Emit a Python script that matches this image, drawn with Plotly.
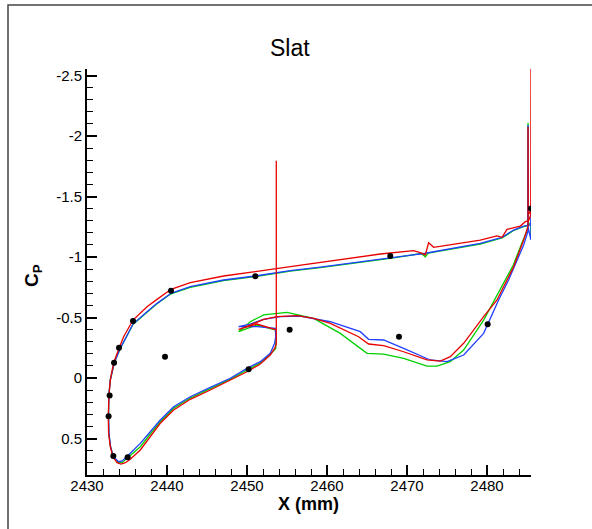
import plotly.graph_objects as go

# ---------------- data ----------------
exp_x = [2432.70, 2432.83, 2433.38, 2434.0, 2435.75, 2440.5, 2451.04, 2467.91, 2485.5,
         2433.29, 2435.08, 2439.75, 2450.2, 2455.33, 2469.0, 2480.08]
exp_cp = [0.317, 0.145, -0.126, -0.250, -0.471, -0.722, -0.840, -1.008, -1.402,
          0.645, 0.655, -0.176, -0.072, -0.399, -0.341, -0.444]

red_x = [2485.5, 2485.5, 2485.47, 2485.2, 2484.79, 2484.16, 2483.33, 2482.5, 2481.88, 2481.25,
         2479.16, 2476.25, 2473.33, 2472.7, 2472.29, 2471.66, 2470.83, 2466.66, 2462.91, 2459.16,
         2455.41, 2451.04, 2447.08, 2442.91, 2440.5, 2438.75, 2437.5, 2435.75, 2434.58, 2434.08,
         2433.33, 2432.91, 2432.75, 2432.66, 2432.7, 2432.91, 2433.25, 2433.75, 2434.25, 2434.79,
         2435.41, 2436.66, 2437.91, 2439.16, 2440.83, 2442.91, 2445.41, 2447.91, 2450.0, 2451.66,
         2452.91, 2453.45, 2453.66, 2453.66, 2453.66, 2451.25, 2448.95, 2450.41, 2452.08, 2453.75,
         2456.25, 2458.33, 2460.41, 2463.95, 2465.2, 2467.08, 2469.58, 2472.5, 2474.16, 2475.41,
         2477.08, 2479.58, 2481.25, 2482.5, 2483.33, 2484.58, 2485.13, 2485.13, 2485.15, 2485.5]
red_cp = [-1.347, -2.56, -1.347, -1.30, -1.292, -1.256, -1.245, -1.229, -1.163, -1.174,
          -1.140, -1.113, -1.080, -1.118, -1.017, -1.036, -1.052, -1.025, -0.988, -0.955,
          -0.920, -0.879, -0.843, -0.788, -0.733, -0.650, -0.589, -0.479, -0.341, -0.259,
          -0.126, 0.017, 0.146, 0.317, 0.457, 0.568, 0.650, 0.700, 0.711, 0.700,
          0.672, 0.595, 0.485, 0.374, 0.264, 0.176, 0.099, 0.017, -0.052, -0.116,
          -0.190, -0.245, -0.281, -1.796, -0.397, -0.446, -0.401, -0.438, -0.485, -0.507,
          -0.515, -0.493, -0.452, -0.341, -0.281, -0.267, -0.217, -0.149, -0.140, -0.176,
          -0.287, -0.507, -0.645, -0.810, -0.920, -1.140, -1.256, -2.074, -1.347, -1.388]

blue_x = [2485.5, 2485.5, 2485.46, 2485.2, 2484.58, 2483.33, 2481.88, 2479.16, 2475.0, 2472.29,
          2467.91, 2462.91, 2459.16, 2455.41, 2451.04, 2447.08, 2442.91, 2440.5, 2438.75, 2437.5,
          2435.75, 2434.16, 2433.41, 2432.91, 2432.72, 2432.7, 2432.75, 2432.95, 2433.29, 2433.95,
          2434.41, 2435.41, 2436.66, 2437.91, 2439.16, 2440.83, 2442.91, 2445.41, 2447.91, 2450.0,
          2451.66, 2452.91, 2453.45, 2453.6, 2453.54, 2451.25, 2448.95, 2450.41, 2452.08, 2454.16,
          2456.66, 2460.41, 2464.16, 2465.2, 2467.08, 2469.58, 2472.91, 2475.0, 2477.08, 2479.58,
          2481.45, 2482.7, 2483.54, 2484.58, 2485.1, 2485.13, 2485.15, 2485.5]
blue_cp = [-1.140, -1.388, -1.264, -1.264, -1.256, -1.223, -1.163, -1.113, -1.064, -1.031,
           -0.992, -0.946, -0.917, -0.887, -0.843, -0.810, -0.755, -0.700, -0.617, -0.548,
           -0.446, -0.245, -0.126, 0.017, 0.146, 0.317, 0.457, 0.568, 0.650, 0.692,
           0.686, 0.622, 0.540, 0.444, 0.347, 0.237, 0.155, 0.077, 0.002, -0.080,
           -0.135, -0.204, -0.287, -0.347, -0.411, -0.424, -0.424, -0.446, -0.485, -0.507,
           -0.512, -0.465, -0.383, -0.320, -0.314, -0.245, -0.149, -0.135, -0.190, -0.369,
           -0.645, -0.810, -0.934, -1.099, -1.207, -2.091, -1.240, -1.140]

green_x = [2485.5, 2485.47, 2485.2, 2484.58, 2483.33, 2481.88, 2479.16, 2475.0, 2472.66, 2472.29,
           2471.79, 2467.91, 2462.91, 2459.16, 2455.41, 2451.04, 2447.08, 2442.91, 2440.5, 2438.75,
           2437.5, 2435.75, 2434.16, 2433.41, 2432.91, 2432.72, 2432.69, 2432.72, 2432.94, 2433.29,
           2433.91, 2434.41, 2435.41, 2436.66, 2437.91, 2439.16, 2440.83, 2442.91, 2445.41, 2447.91,
           2450.0, 2451.66, 2452.91, 2453.45, 2453.6, 2453.6, 2453.54, 2451.25, 2448.95, 2450.41,
           2452.08, 2455.0, 2458.33, 2461.66, 2465.0, 2467.08, 2469.58, 2472.5, 2473.75, 2475.41,
           2477.08, 2479.58, 2482.29, 2483.29, 2484.41, 2485.1, 2485.13, 2485.15]
green_cp = [-1.157, -1.289, -1.260, -1.252, -1.219, -1.157, -1.107, -1.058, -1.033, -1.002,
            -1.029, -0.988, -0.942, -0.913, -0.883, -0.839, -0.806, -0.750, -0.696, -0.613,
            -0.544, -0.442, -0.244, -0.126, 0.017, 0.146, 0.317, 0.457, 0.568, 0.653,
            0.700, 0.698, 0.640, 0.568, 0.463, 0.361, 0.250, 0.165, 0.088, 0.011,
            -0.066, -0.124, -0.196, -0.236, -0.244, -0.355, -0.397, -0.438, -0.383, -0.465,
            -0.521, -0.543, -0.493, -0.369, -0.204, -0.198, -0.163, -0.099, -0.099, -0.135,
            -0.231, -0.479, -0.810, -0.934, -1.124, -1.231, -2.110, -1.256]

x_tickvals = [2430, 2440, 2450, 2460, 2470, 2480]
x_ticktext = ["2430", "2440", "2450", "2460", "2470", "2480"]
y_tickvals = [-2.5, -2, -1.5, -1, -0.5, 0, 0.5]
y_ticktext = ["-2.5", "-2", "-1.5", "-1", "-0.5", "0", "0.5"]

# ---------------- layout constants (pixels) ----------------
W, H = 592, 529
L, R, T, B = 87, 61, 69, 54
PW, PH = W - L - R, H - T - B

def px(xp):
    return (xp - L) / PW

def py(yp):
    return (H - B - yp) / PH

FONT = "Liberation Sans, Arial, Helvetica, sans-serif"

fig = go.Figure()
fig.add_trace(go.Scatter(x=green_x, y=green_cp, mode="lines",
                         line=dict(color="#00d000", width=1.3), showlegend=False))
fig.add_trace(go.Scatter(x=blue_x, y=blue_cp, mode="lines",
                         line=dict(color="#2040ff", width=1.3), showlegend=False))
fig.add_trace(go.Scatter(x=red_x, y=red_cp, mode="lines",
                         line=dict(color="#e80000", width=1.3), showlegend=False))
fig.add_trace(go.Scatter(x=exp_x, y=exp_cp, mode="markers",
                         marker=dict(color="black", size=6), showlegend=False))

fig.update_xaxes(range=[2430, 2485.5], showgrid=False, zeroline=False,
                 showline=True, linecolor="black", linewidth=2,
                 ticks="inside", ticklen=10, tickwidth=1.5, tickcolor="black",
                 tickmode="array", tickvals=x_tickvals, ticktext=x_ticktext,
                 ticklabelstandoff=-4,
                 tickfont=dict(family=FONT, size=15, color="black"),
                 minor=dict(ticks="inside", ticklen=6, tickwidth=1, tickcolor="black",
                            tick0=2430, dtick=2, showgrid=False))
fig.update_yaxes(range=[0.8017, -2.554], showgrid=False, zeroline=False,
                 showline=True, linecolor="black", linewidth=2,
                 ticks="inside", ticklen=10, tickwidth=1.5, tickcolor="black",
                 tickmode="array", tickvals=y_tickvals, ticktext=y_ticktext,
                 tickfont=dict(family=FONT, size=15, color="black"),
                 minor=dict(ticks="inside", ticklen=6, tickwidth=1, tickcolor="black",
                            tick0=0, dtick=0.1, showgrid=False))

fig.update_layout(
    width=W, height=H, autosize=False,
    margin=dict(l=L, r=R, t=T, b=B, pad=0),
    paper_bgcolor="white", plot_bgcolor="white",
    font=dict(family=FONT, color="black"),
    annotations=[
        dict(text="Slat", xref="paper", yref="paper", x=px(290), y=py(48),
             showarrow=False, font=dict(size=23, family=FONT), xanchor="center", yanchor="middle"),
        dict(text="<b>X (mm)</b>", xref="paper", yref="paper", x=px(308), y=py(504),
             showarrow=False, font=dict(size=18, family=FONT), xanchor="center", yanchor="middle"),
        dict(text="<b>C<sub>P</sub></b>", xref="paper", yref="paper", x=px(33), y=py(276),
             showarrow=False, textangle=-90, font=dict(size=19, family=FONT),
             xanchor="center", yanchor="middle"),
    ],
    shapes=[
        dict(type="rect", xref="paper", yref="paper",
             x0=px(8), y0=py(H + 10), x1=px(W + 10), y1=py(5),
             line=dict(color="#444444", width=1.5), fillcolor="rgba(0,0,0,0)", layer="above"),
    ],
)

fig.write_html("out.html")
